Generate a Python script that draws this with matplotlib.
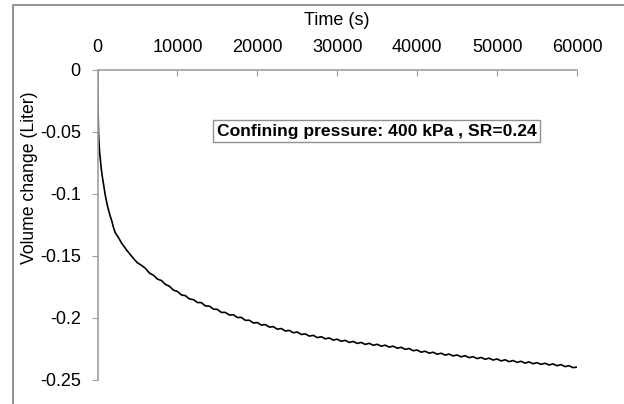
import matplotlib
matplotlib.use("Agg")
import matplotlib.pyplot as plt
from matplotlib.patches import Rectangle

plt.rcParams['font.family'] = ['Liberation Sans', 'DejaVu Sans']

# Volume change during consolidation
time_s = [0, 20, 50, 90, 125, 180, 250, 350, 460, 580, 700, 830, 960, 1130, 1300,
          1550, 1800, 2000, 2210, 2450, 2700, 3050, 3350, 3670, 4000, 4500, 5000, 5500,
          6000, 6500, 7000, 7500, 8000, 8500, 9000, 9500, 10000, 10500, 11000, 11500,
          12000, 12500, 13000, 13500, 14000, 14500, 15000, 15500, 16000, 16500, 17000,
          17500, 18000, 18500, 19000, 19500, 20000, 20500, 21000, 21500, 22000, 22500,
          23000, 23500, 24000, 24500, 25000, 25500, 26000, 26500, 27000, 27500, 28000,
          28500, 29000, 29500, 30000, 30500, 31000, 31500, 32000, 32500, 33000, 33500,
          34000, 34500, 35000, 35500, 36000, 36500, 37000, 37500, 38000, 38500, 39000,
          39500, 40000, 40500, 41000, 41500, 42000, 42500, 43000, 43500, 44000, 44500,
          45000, 45500, 46000, 46500, 47000, 47500, 48000, 48500, 49000, 49500, 50000,
          50500, 51000, 51500, 52000, 52500, 53000, 53500, 54000, 54500, 55000, 55500,
          56000, 56500, 57000, 57500, 58000, 58500, 59000, 59500, 60000]
volume_l = [0, -0.012, -0.025, -0.040, -0.050, -0.058, -0.065, -0.072, -0.079, -0.085,
            -0.090, -0.095, -0.1005, -0.106, -0.111, -0.117, -0.122, -0.127, -0.131,
            -0.1335, -0.136, -0.140, -0.1425, -0.1455, -0.148, -0.152, -0.1555, -0.1575,
            -0.1600, -0.1638, -0.1655, -0.1686, -0.1698, -0.1729, -0.1744, -0.1775,
            -0.1786, -0.1814, -0.1820, -0.1846, -0.1852, -0.1875, -0.1876, -0.1903,
            -0.1904, -0.1928, -0.1931, -0.1955, -0.1955, -0.1976, -0.1974, -0.1996,
            -0.1995, -0.2019, -0.2018, -0.2040, -0.2037, -0.2057, -0.2053, -0.2073,
            -0.2070, -0.2090, -0.2085, -0.2105, -0.2100, -0.2119, -0.2113, -0.2133,
            -0.2128, -0.2146, -0.2140, -0.2158, -0.2151, -0.2168, -0.2161, -0.2178,
            -0.2171, -0.2188, -0.2180, -0.2197, -0.2189, -0.2205, -0.2197, -0.2213,
            -0.2204, -0.2220, -0.2212, -0.2227, -0.2219, -0.2235, -0.2227, -0.2244,
            -0.2236, -0.2253, -0.2246, -0.2264, -0.2258, -0.2276, -0.2268, -0.2284,
            -0.2276, -0.2292, -0.2284, -0.2299, -0.2291, -0.2306, -0.2298, -0.2313,
            -0.2304, -0.2320, -0.2312, -0.2327, -0.2318, -0.2333, -0.2324, -0.2339,
            -0.2330, -0.2346, -0.2337, -0.2352, -0.2343, -0.2358, -0.2349, -0.2364,
            -0.2354, -0.2369, -0.2360, -0.2374, -0.2365, -0.2379, -0.2370, -0.2385,
            -0.2376, -0.2392, -0.2385, -0.2400, -0.2396]

x_ticks = [0, 10000, 20000, 30000, 40000, 50000, 60000]
y_ticks = [0, -0.05, -0.1, -0.15, -0.2, -0.25]
y_labels = ['0', '-0.05', '-0.1', '-0.15', '-0.2', '-0.25']
note = 'Confining pressure: 400 kPa , SR=0.24'

fig = plt.figure(figsize=(6.24, 4.04), dpi=100)
ax = fig.add_axes([97.5 / 624, 1 - 380 / 404, 479.5 / 624, 310 / 404])

ax.plot(time_s, volume_l, color='black', lw=1.2)

ax.set_xlim(0, 60000)
ax.set_ylim(-0.25, 0)
ax.xaxis.tick_top()
ax.xaxis.set_label_position('top')
ax.set_xticks(x_ticks)
ax.set_xticklabels([str(t) for t in x_ticks])
ax.set_yticks(y_ticks)
ax.set_yticklabels(y_labels)
ax.tick_params(axis='x', direction='in', length=4, color='#a0a0a0', labelsize=13, pad=10)
ax.tick_params(axis='y', direction='out', length=4, color='#a0a0a0', labelsize=13, pad=8)

for side in ['right', 'bottom']:
    ax.spines[side].set_visible(False)
for side in ['left', 'top']:
    ax.spines[side].set_color('#a0a0a0')
    ax.spines[side].set_linewidth(1.2)

ax.set_xlabel('Time (s)', fontsize=13, labelpad=10)
ax.set_ylabel('Volume change (Liter)', fontsize=12.7)
ax.yaxis.set_label_coords(-0.124, 0.652)

ax.text(0.582, 0.802, note, transform=ax.transAxes, ha='center', va='center',
        fontsize=12.6, fontweight='bold',
        bbox=dict(boxstyle='square,pad=0.2', fc='white', ec='#909090', lw=1))

# outer chart frame
fig.patches.append(Rectangle((13 / 624, -0.1), 1.2, 1.1 - 5 / 404, transform=fig.transFigure,
                             fill=False, ec='#808080', lw=1.2))

fig.savefig('out.png', dpi=100)
